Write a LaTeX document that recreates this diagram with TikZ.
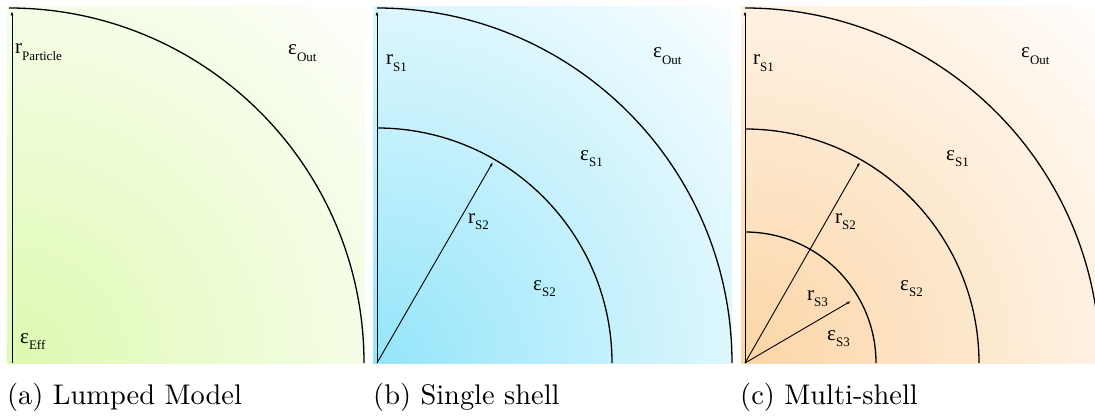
\documentclass[tikz,border=0pt]{standalone}
\usepackage{fontspec}
\newfontfamily\labfont{Liberation Serif}
\usetikzlibrary{arrows.meta}
\definecolor{cA}{RGB}{222,249,176}
\definecolor{cB}{RGB}{148,229,250}
\definecolor{cC}{RGB}{252,213,166}
\newcommand{\lbl}[2]{{\labfont\fontsize{21}{21}\selectfont #1\raisebox{-6.5pt}{\fontsize{13}{13}\selectfont #2}}}
\newcommand{\captxt}[1]{\scalebox{2.84}{\fontsize{10}{12}\selectfont #1}}
\tikzset{
  shellarc/.style={line width=1.3pt, black},
  radarrow/.style={line width=0.9pt, -{Latex[length=4.5pt,width=3pt]}},
  lab/.style={anchor=base west, inner sep=0pt},
  captext/.style={anchor=base west, inner sep=0pt}
}
\begin{document}
\begin{tikzpicture}[x=1pt,y=1pt]
\useasboundingbox (0,0) rectangle (1095,416);
\fill[white] (0,0) rectangle (1095,416);
% ---------- panel a
\begin{scope}
\clip (7,53) rectangle (365,409);
\shade[inner color=cA, outer color=white] (9,53) circle (520);
\end{scope}
\coordinate (oa) at (9,53);
\coordinate (oaa) at (12,53);
\coordinate (ta) at (12,405);
\draw[shellarc] (oa) ++(0,355) arc[start angle=90, end angle=0, radius=355];
\draw[radarrow] (oaa) -- (ta);
\node[lab] (aR) at (15,362) {\lbl{r}{Particle}};
\node[lab] (aOut) at (288,361) {\lbl{ε}{Out}};
\node[lab] (aEff) at (20,73) {\lbl{ε}{Eff}};
\node[captext] (capa) at (7,12) {\captxt{(a) Lumped Model}};
% ---------- panel b
\begin{scope}
\clip (373,53) rectangle (732,409);
\shade[inner color=cB, outer color=white] (377,53) circle (520);
\end{scope}
\coordinate (ob) at (377,53);
\coordinate (tb) at (377,405);
\coordinate (sb) at (493,254);
\draw[shellarc] (ob) ++(0,355) arc[start angle=90, end angle=0, radius=355];
\draw[shellarc] (ob) ++(0,235) arc[start angle=90, end angle=0, radius=235];
\draw[radarrow] (ob) -- (tb);
\draw[radarrow] (ob) -- (sb);
\node[lab] (bR1) at (386,351) {\lbl{r}{S1}};
\node[lab] (bOut) at (653,358) {\lbl{ε}{Out}};
\node[lab] (bS1) at (580,256) {\lbl{ε}{S1}};
\node[lab] (bR2) at (468,193) {\lbl{r}{S2}};
\node[lab] (bS2) at (533,126) {\lbl{ε}{S2}};
\node[captext] (capb) at (373,12) {\captxt{(b) Single shell}};
% ---------- panel c
\begin{scope}
\clip (741,53) rectangle (1095,409);
\shade[inner color=cC, outer color=white] (745,53) circle (520);
\draw[shellarc] (745,408) arc[start angle=90, end angle=0, radius=355];
\end{scope}
\coordinate (oc) at (745,53);
\coordinate (tc) at (745,405);
\coordinate (sc2) at (860,254);
\coordinate (sc3) at (851,115);
\draw[shellarc] (oc) ++(0,234) arc[start angle=90, end angle=0, radius=234];
\draw[shellarc] (oc) ++(0,131) arc[start angle=90, end angle=0, radius=131];
\draw[radarrow] (oc) -- (tc);
\draw[radarrow] (oc) -- (sc2);
\draw[radarrow] (oc) -- (sc3);
\node[lab] (cR1) at (753,351) {\lbl{r}{S1}};
\node[lab] (cOut) at (1021,358) {\lbl{ε}{Out}};
\node[lab] (cS1) at (946,256) {\lbl{ε}{S1}};
\node[lab] (cR2) at (835,193) {\lbl{r}{S2}};
\node[lab] (cS2) at (900,126) {\lbl{ε}{S2}};
\node[lab] (cR3) at (807,116) {\lbl{r}{S3}};
\node[lab] (cS3) at (827,76) {\lbl{ε}{S3}};
\node[captext] (capc) at (740,12) {\captxt{(c) Multi-shell}};
\end{tikzpicture}
\end{document}
